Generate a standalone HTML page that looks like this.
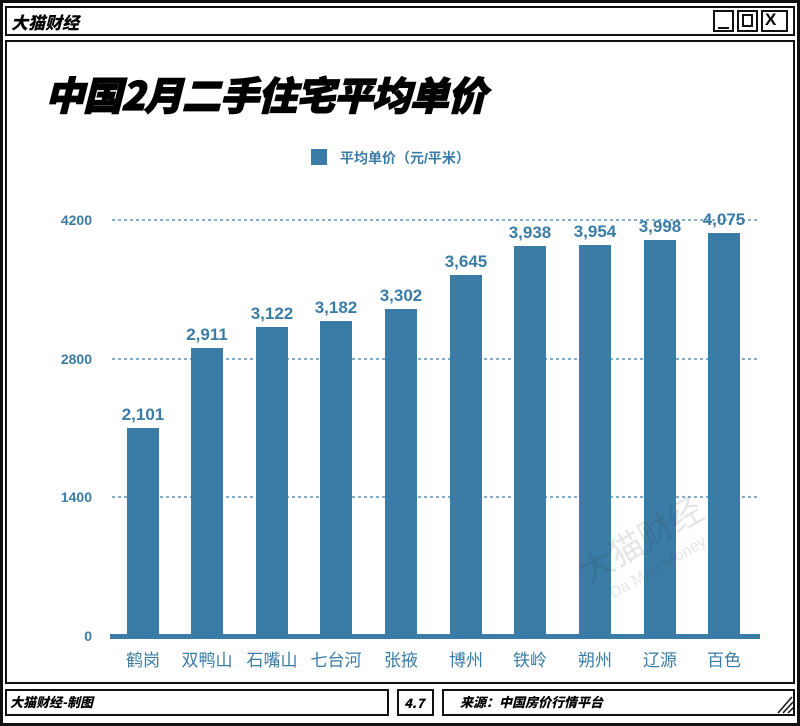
<!DOCTYPE html>
<html><head><meta charset="utf-8"><style>
body{margin:0;width:800px;height:726px;background:#fff;position:relative;overflow:hidden;font-family:"Liberation Sans","Noto Sans CJK SC",sans-serif}
.b{position:absolute;border:2px solid #111;box-sizing:border-box;background:#fff}
.it{font-style:italic;font-weight:900;font-family:"Noto Sans CJK SC",sans-serif}
</style></head><body>
<div class="b" style="left:0;top:0;width:800px;height:726px;border-width:3px"></div>
<div class="b" style="left:5px;top:6px;width:790px;height:30px"></div>
<div class="it" style="position:absolute;left:11px;top:9px;font-size:17px">大猫财经</div>
<div class="b" style="left:713px;top:10px;width:21px;height:22px"></div>
<div style="position:absolute;left:718px;top:27px;width:11px;height:2px;background:#111"></div>
<div class="b" style="left:737px;top:10px;width:21px;height:22px"></div>
<div class="b" style="left:742px;top:14px;width:11px;height:13px"></div>
<div class="b" style="left:761px;top:10px;width:27px;height:22px"></div>
<div style="position:absolute;left:765px;top:10px;font-size:17px;font-weight:bold">X</div>
<div class="b" style="left:5px;top:40px;width:790px;height:644px"></div>
<div class="it" style="position:absolute;left:45px;top:66px;font-size:39px;letter-spacing:-1px;-webkit-text-stroke:1.2px #000">中国2月二手住宅平均单价</div>
<div class="b" style="left:5px;top:689px;width:384px;height:27px"></div>
<div class="it" style="position:absolute;left:10px;top:692px;font-size:13px">大猫财经-制图</div>
<div class="b" style="left:397px;top:689px;width:37px;height:27px"></div>
<div class="it" style="position:absolute;left:404px;top:693px;font-size:13px">4.7</div>
<div class="b" style="left:442px;top:689px;width:353px;height:27px"></div>
<div class="it" style="position:absolute;left:460px;top:692px;font-size:13px">来源：中国房价行情平台</div>
<svg width="800" height="726" style="position:absolute;left:0;top:0" font-family="Liberation Sans, Noto Sans CJK SC, sans-serif">
<line x1="778" y1="713" x2="792" y2="697" stroke="#111" stroke-width="1.5"/><line x1="783" y1="713" x2="793" y2="702" stroke="#111" stroke-width="1.5"/><line x1="788" y1="713" x2="794" y2="707" stroke="#111" stroke-width="1.5"/>
<rect x="311" y="149" width="16" height="16" fill="#3a7ca5"/>
<text x="340" y="163" font-size="14" font-weight="bold" fill="#3a7ca5">平均单价（元/平米）</text>
<g stroke="#3a7ca5" stroke-width="1.2" stroke-dasharray="3,3">
<line x1="112" y1="220" x2="760" y2="220"/><line x1="112" y1="359" x2="760" y2="359"/><line x1="112" y1="497" x2="760" y2="497"/></g>
<g font-size="14" font-weight="bold" fill="#3a7ca5" text-anchor="end">
<text x="92" y="225">4200</text><text x="92" y="364">2800</text><text x="92" y="502">1400</text><text x="92" y="641">0</text></g>
<g fill="#3a7ca5">
<rect x="127" y="428" width="32" height="208"/><rect x="191" y="348" width="32" height="288"/><rect x="256" y="327" width="32" height="309"/><rect x="320" y="321" width="32" height="315"/><rect x="385" y="309" width="32" height="327"/><rect x="450" y="275" width="32" height="361"/><rect x="514" y="246" width="32" height="390"/><rect x="579" y="245" width="32" height="391"/><rect x="644" y="240" width="32" height="396"/><rect x="708" y="233" width="32" height="403"/>
<rect x="110" y="634" width="650" height="5"/></g>
<g font-size="17" font-weight="bold" fill="#3a7ca5" text-anchor="middle">
<text x="143" y="420">2,101</text><text x="207" y="340">2,911</text><text x="272" y="319">3,122</text><text x="336" y="313">3,182</text><text x="401" y="301">3,302</text><text x="466" y="267">3,645</text><text x="530" y="238">3,938</text><text x="595" y="237">3,954</text><text x="660" y="232">3,998</text><text x="724" y="225">4,075</text></g>
<g font-size="17" fill="#3a7ca5" text-anchor="middle">
<text x="143" y="666">鹤岗</text><text x="207" y="666">双鸭山</text><text x="272" y="666">石嘴山</text><text x="336" y="666">七台河</text><text x="401" y="666">张掖</text><text x="466" y="666">博州</text><text x="530" y="666">铁岭</text><text x="595" y="666">朔州</text><text x="660" y="666">辽源</text><text x="724" y="666">百色</text></g>
<g opacity="0.12" transform="rotate(-30 620 520)"><text x="560" y="560" font-size="34" fill="#333">大猫财经</text><text x="575" y="585" font-size="16" fill="#333">Da Mao Money</text></g>
</svg>
</body></html>
